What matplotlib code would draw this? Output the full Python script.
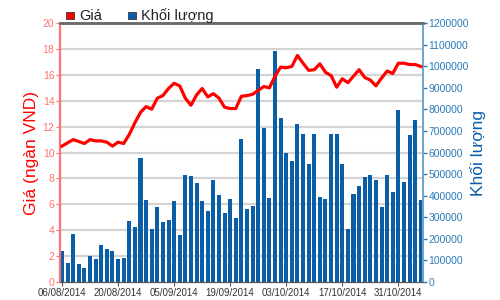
import numpy as np
import matplotlib
matplotlib.use("Agg")
import matplotlib.pyplot as plt
from matplotlib.patches import Rectangle
from matplotlib.ticker import FormatStrFormatter

# gia (ngan VND) theo phien
gia = [10.5, 10.75, 11.0, 10.85, 10.7, 11.0, 10.9, 10.9, 10.8, 10.5,
       10.8, 10.7, 11.4, 12.3, 13.1, 13.55, 13.35, 14.2, 14.4, 14.95,
       15.35, 15.15, 14.2, 13.65, 14.45, 14.95, 14.3, 14.55, 14.2, 13.5,
       13.4, 13.4, 14.35, 14.4, 14.5, 14.8, 15.1, 15.0, 15.9, 16.6,
       16.55, 16.65, 17.5, 16.9, 16.35, 16.4, 16.85, 16.2, 15.95, 15.05,
       15.7, 15.4, 15.9, 16.4, 15.8, 15.6, 15.15, 15.75, 16.3, 16.1,
       16.9, 16.9, 16.8, 16.8, 16.65]

khoi_luong = [146000, 88000, 223000, 83000, 63000, 120000, 108000, 172000, 151000, 146000,
              108000, 112000, 285000, 255000, 577000, 380000, 246000, 346000, 280000, 288000,
              374000, 217000, 495000, 491000, 460000, 375000, 328000, 471000, 405000, 318000,
              385000, 298000, 661000, 337000, 352000, 989000, 712000, 389000, 1070000, 759000,
              600000, 562000, 731000, 688000, 545000, 684000, 394000, 386000, 684000, 684000,
              545000, 246000, 406000, 443000, 488000, 497000, 474000, 347000, 497000, 417000,
              799000, 462000, 680000, 752000, 382000]

tick_pos = [0, 10, 20, 30, 40, 50, 60]
tick_labels = ["06/08/2014", "20/08/2014", "05/09/2014", "19/09/2014",
               "03/10/2014", "17/10/2014", "31/10/2014"]

RED = "#ff0000"
RED_LIGHT = "#ff7070"
BLUE = "#0a5ea8"
BLUE_TXT = "#2a7ab8"

plt.rcParams['font.family'] = ['Liberation Sans', 'DejaVu Sans']

fig = plt.figure(figsize=(5, 3), dpi=100)
ax = fig.add_axes([0.12, 0.06, 0.726, 0.863])
ax2 = ax.twinx()

x = np.arange(len(gia))

# bars on the right axis, line on the left axis (drawn on top)
ax2.bar(x, khoi_luong, width=0.72, color=BLUE, zorder=2)
ax2.set_ylim(0, 1200000)
ax2.set_yticks(np.arange(0, 1200001, 100000))
ax2.yaxis.set_major_formatter(FormatStrFormatter('%d'))
ax2.tick_params(axis='y', colors=BLUE_TXT, labelsize=7.5, length=3, width=1, pad=1)
ax2.set_ylabel("Khối lượng", color=BLUE, fontsize=12.5, labelpad=1)

ax.set_zorder(ax2.get_zorder() + 1)
ax.patch.set_visible(False)
ax.plot(x, gia, color=RED, lw=2.3, zorder=5, solid_joinstyle='round')
ax.set_ylim(0, 20)
ax.set_yticks(np.arange(0, 21, 2))
ax.set_xlim(-0.36, 64.4)
ax.set_xticks(tick_pos)
ax.set_xticklabels(tick_labels)
ax.tick_params(axis='y', colors=RED_LIGHT, labelcolor=RED_LIGHT, labelsize=7.5, length=3, pad=1)
ax.tick_params(axis='x', labelsize=7, labelcolor="#333333", length=3, color="#555555", pad=1)
ax.set_ylabel("Giá (ngàn VND)", color=RED, fontsize=12.5, labelpad=3)

# grid lines drawn behind the bars
for v in np.arange(2, 20, 2):
    ax2.axhline(v * 60000, color="#d4d4d4", lw=1.6, zorder=0)

for a in (ax, ax2):
    a.spines['top'].set_color("#6a6a6a")
    a.spines['top'].set_linewidth(1.8)
    a.spines['bottom'].set_color("#555555")
    a.spines['left'].set_color(RED_LIGHT)
    a.spines['left'].set_linewidth(1.5)
    a.spines['right'].set_color("#6aa6d0")
    a.spines['right'].set_linewidth(1.2)

# legend at top
fig.patches.append(Rectangle((66 / 500, 1 - 19 / 300), 8 / 500, 7 / 300,
                             transform=fig.transFigure, facecolor=RED, edgecolor="#333333", lw=0.6))
fig.text(79 / 500, 1 - 16 / 300, "Giá", fontsize=10.5, color="#222222", va='center')
fig.patches.append(Rectangle((128 / 500, 1 - 19 / 300), 8 / 500, 7 / 300,
                             transform=fig.transFigure, facecolor=BLUE, edgecolor="#333333", lw=0.6))
fig.text(141 / 500, 1 - 16 / 300, "Khối lượng", fontsize=10.5, color="#222222", va='center')

fig.savefig("out.png", dpi=100)
